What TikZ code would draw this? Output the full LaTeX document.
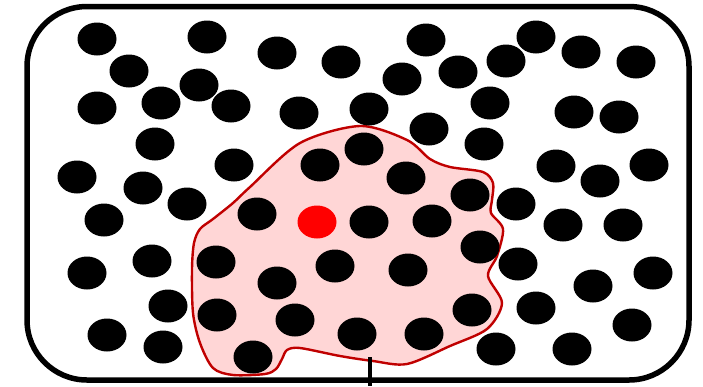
\documentclass[tikz,border=0pt]{standalone}
\definecolor{blobfill}{HTML}{FFD6D6}
\definecolor{blobline}{HTML}{C00000}
\definecolor{hot}{HTML}{FF0000}
\tikzset{
  dot/.style={fill=black},
  boxline/.style={line width=5.5pt, rounded corners=60pt},
  blob/.style={fill=blobfill, draw=blobline, line width=2.4pt},
}
\begin{document}
\begin{tikzpicture}[x=1pt,y=-1pt]
\useasboundingbox (0,0) rectangle (703,386);
\draw[boxline] (27,6.5) rectangle (689,380);
\draw[blob] plot[smooth cycle, tension=0.5] coordinates {
 (360,126) (407,140) (430,159) (450,167) (483,172) (493,183) (492,200) (491,213)
 (503,229) (497,256) (488,276) (502,303) (487,329) (450,346) (407,364) (373,361)
 (340,356) (300,348) (287,350) (282,359) (276,369) (265,374) (233,375) (213,368)
 (200,343) (193,313) (192,269) (194,243) (200,229) (213,219) (233,203) (250,187)
 (300,143)};
\foreach \x/\y in {
 97/39, 207/37, 277/53, 341/62, 426/40, 536/37, 581/52, 636/62, 506/61, 458/72, 402/79, 129/71, 199/85,
 97/108, 161/103, 231/106, 299/113, 369/109, 490/103, 574/112, 619/117, 429/129,
 155/144, 364/149, 484/144,
 234/165, 320/165, 406/178, 556/166, 600/181, 649/165,
 77/177, 143/188, 187/204, 470/195, 516/204,
 104/220, 257/214, 369/222, 432/221, 563/225, 623/225,
 480/247, 152/261, 216/262, 87/273, 335/266, 408/270, 518/264, 653/273,
 277/283, 593/286,
 168/306, 536/308, 472/310, 217/315, 295/320, 632/325,
 107/335, 357/334, 424/334, 163/347, 253/357, 496/349, 572/349}
 \fill[dot] (\x,\y) ellipse [x radius=19.5, y radius=16.5];
\fill[hot] (317,222) ellipse [x radius=19.5, y radius=16.5];
\coordinate (lt) at (370,357);
\coordinate (lb) at (370,386);
\draw[line width=4pt] (lt) -- (lb);
\end{tikzpicture}
\end{document}
